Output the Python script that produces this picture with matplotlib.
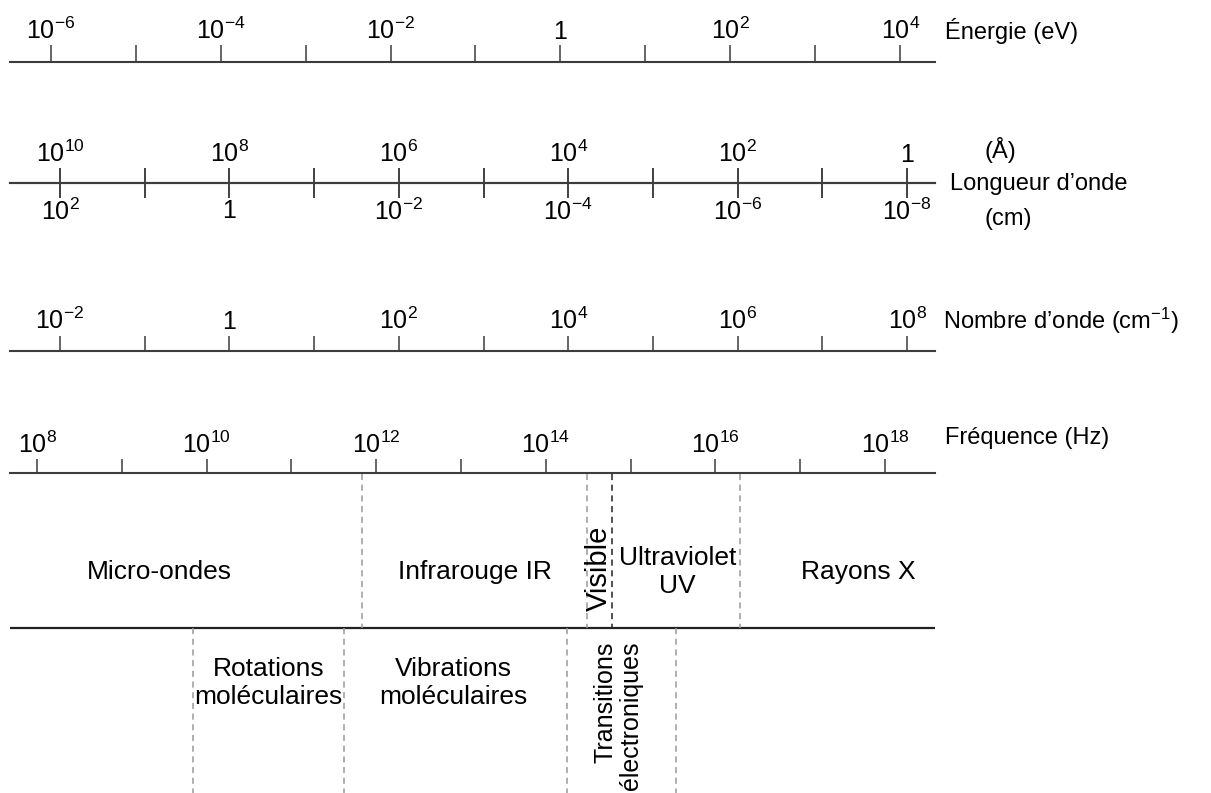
import matplotlib
matplotlib.use('Agg')
import matplotlib.pyplot as plt
from matplotlib import font_manager
from matplotlib.ticker import FixedLocator, FuncFormatter, NullLocator
import numpy as np

# decades on each scale (exponents of 10)
energy_exp = np.arange(-6, 5)          # eV
angstrom_exp = np.arange(10, -1, -1)   # Å
cm_exp = np.arange(2, -9, -1)          # cm
wavenum_exp = np.arange(-2, 9)         # cm-1
freq_exp = np.arange(8, 19)            # Hz

# visible range of each scale (log10)
energy_lim = (-6.48, 4.41)
angstrom_lim = (10.59, -0.33)
cm_lim = (2.59, -8.33)
wavenum_lim = (-2.59, 8.33)
freq_lim = (7.68, 18.59)

# spectral domains (Hz)
domain_bounds = [6.8e11, 3.1e14, 6.0e14, 1.95e16]
domain_colors = ['#9a9a9a', '#9a9a9a', '#222222', '#9a9a9a']
domain_names = ['Micro-ondes', 'Infrarouge IR', 'Ultraviolet\nUV', 'Rayons X']
domain_centers = [2.8e9, 1.45e13, 3.6e15, 4.9e17]
visible_center = 4.2e14

# molecular transitions (Hz)
trans_bounds = [6.9e9, 4.2e11, 1.8e14, 3.4e15]
trans_names = ['Rotations\nmoléculaires', 'Vibrations\nmoléculaires']
trans_centers = [5.4e10, 8.2e12]
elec_center = 7.1e14

names = {f.name for f in font_manager.fontManager.ttflist}
narrow = 'Liberation Sans Narrow' if 'Liberation Sans Narrow' in names else 'Liberation Sans'

plt.rcParams['font.family'] = ['Liberation Sans', 'DejaVu Sans']
plt.rcParams['mathtext.fontset'] = 'custom'
plt.rcParams['mathtext.rm'] = 'Liberation Sans'
plt.rcParams['mathtext.it'] = 'Liberation Sans:italic'
plt.rcParams['mathtext.bf'] = 'Liberation Sans:bold'

W, H = 1211, 793
fig = plt.figure(figsize=(W / 100, H / 100), dpi=100)
LINE = '#3c3c3c'
TICKFS = 18
NAMEFS = 17
BANDFS = 19


def decade_label(v, pos):
    e = int(round(np.log10(v)))
    if e % 2:
        return ''
    if e == 0:
        return '1'
    return '$10^{%d}$' % e


def scale_axes(y, exps, lim):
    ax = fig.add_axes([10 / W, 1 - y / H, 925 / W, 1e-6])
    ax.set_xscale('log')
    ax.set_xlim(10.0 ** lim[0], 10.0 ** lim[1])
    ax.xaxis.set_major_locator(FixedLocator(10.0 ** exps))
    ax.xaxis.set_minor_locator(NullLocator())
    ax.xaxis.set_major_formatter(FuncFormatter(decade_label))
    ax.set_yticks([])
    for s in ['left', 'right', 'top']:
        ax.spines[s].set_visible(False)
    ax.spines['bottom'].set_color(LINE)
    ax.spines['bottom'].set_linewidth(1.5)
    ax.patch.set_visible(False)
    return ax


# Energie
ax = scale_axes(62, energy_exp, energy_lim)
ax.tick_params(axis='x', which='major', top=True, bottom=False, labeltop=True,
               labelbottom=False, direction='out', length=12, width=1.1,
               color=LINE, pad=1, labelsize=TICKFS)
fig.text(945 / W, 1 - 31 / H, 'Énergie (eV)', fontsize=NAMEFS, va='center')

# Longueur d'onde, Å above and cm below
ax = scale_axes(183, angstrom_exp, angstrom_lim)
ax.tick_params(axis='x', which='major', top=True, bottom=False, labeltop=True,
               labelbottom=False, direction='inout', length=21, width=1.1,
               color=LINE, pad=1, labelsize=TICKFS)
ax = scale_axes(183, cm_exp, cm_lim)
ax.tick_params(axis='x', which='major', top=False, bottom=True, labeltop=False,
               labelbottom=True, direction='inout', length=21, width=1.1,
               color=LINE, pad=1, labelsize=TICKFS)
fig.text(985 / W, 1 - 150 / H, '(Å)', fontsize=NAMEFS, va='center')
fig.text(950 / W, 1 - 184 / H, 'Longueur d’onde', fontsize=NAMEFS, va='center')
fig.text(985 / W, 1 - 219 / H, '(cm)', fontsize=NAMEFS, va='center')

# Nombre d'onde
ax = scale_axes(351, wavenum_exp, wavenum_lim)
ax.tick_params(axis='x', which='major', top=True, bottom=False, labeltop=True,
               labelbottom=False, direction='out', length=11, width=1.1,
               color=LINE, pad=1, labelsize=TICKFS)
fig.text(943 / W, 1 - 321 / H, 'Nombre d’onde (cm$^{-1}$)', fontsize=NAMEFS, va='center')

# Frequence
ax = scale_axes(473, freq_exp, freq_lim)
ax.tick_params(axis='x', which='major', top=True, bottom=False, labeltop=True,
               labelbottom=False, direction='out', length=10, width=1.1,
               color=LINE, pad=1, labelsize=TICKFS)
fig.text(945 / W, 1 - 438 / H, 'Fréquence (Hz)', fontsize=NAMEFS, va='center')

# domains below the frequency scale (y in pixel rows)
axb = fig.add_axes([10 / W, 0, 925 / W, (H - 473) / H])
axb.set_xscale('log')
axb.set_xlim(10.0 ** freq_lim[0], 10.0 ** freq_lim[1])
axb.set_ylim(H, 473)
axb.axis('off')
axb.axhline(628, color='#222222', lw=1.6)
for b, c in zip(domain_bounds, domain_colors):
    axb.plot([b, b], [474, 628], color=c, lw=1.1, ls=(0, (4, 3)))
for b in trans_bounds:
    axb.plot([b, b], [628, H], color='#9a9a9a', lw=1.1, ls=(0, (4, 3)), clip_on=False)

for x, t in zip(domain_centers, domain_names):
    axb.text(x, 572, t, ha='center', va='center', fontsize=BANDFS, family=narrow,
             linespacing=1.2)
axb.text(visible_center, 568, 'Visible', ha='center', va='center', rotation=90,
         fontsize=21)
for x, t in zip(trans_centers, trans_names):
    axb.text(x, 683, t, ha='center', va='center', fontsize=BANDFS, family=narrow,
             linespacing=1.2)
axb.text(elec_center, 716, 'Transitions\nélectroniques', ha='center', va='center',
         rotation=90, fontsize=18, multialignment='right', linespacing=1.1)

fig.savefig('out.png', dpi=100)
